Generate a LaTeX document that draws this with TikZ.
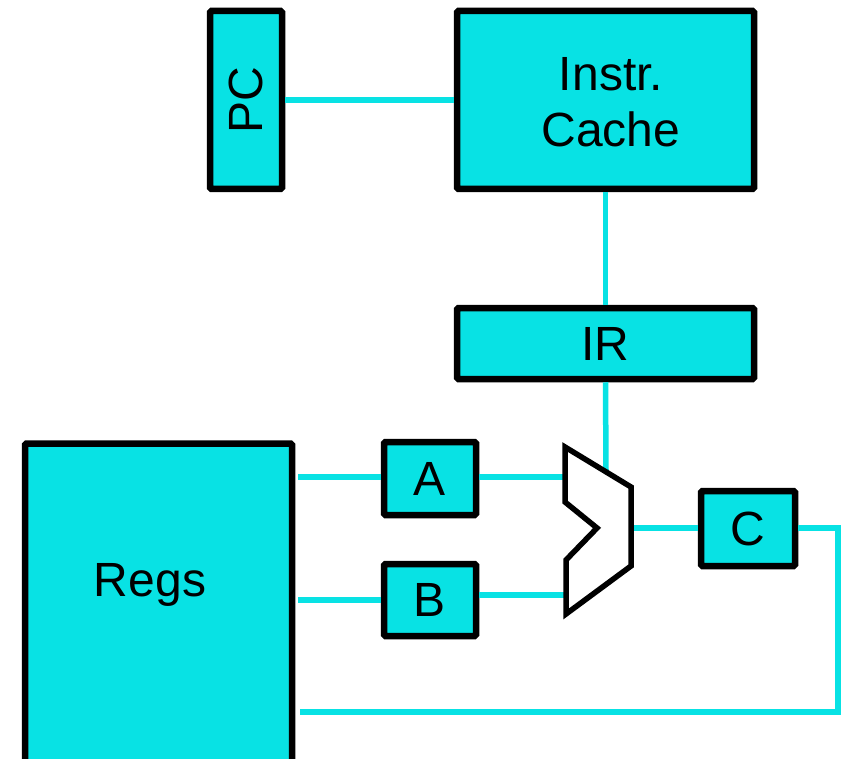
\documentclass[tikz,border=0pt]{standalone}
\usepackage{fontspec}
\setmainfont{Liberation Sans}
\definecolor{cy}{RGB}{8,226,228}
\begin{document}
\begin{tikzpicture}[x=1pt,y=-1pt,
  blk/.style={draw=black,fill=cy,line width=6.5pt,rounded corners=1.5pt,inner sep=0pt,font=\fontsize{48}{56}\selectfont,align=center},
  wire/.style={draw=cy,line width=5.5pt}]
\useasboundingbox (0,0) rectangle (845,759);
\clip (0,0) rectangle (845,759);
% nodes
\node[blk,minimum width=72pt,minimum height=178pt] (PC) at (246,100) {\rotatebox{90}{PC}};
\node[blk,minimum width=297pt,minimum height=178pt] (IC) at (605.5,100) {};
\node[font=\fontsize{48}{56}\selectfont,align=center] (ICt) at (611,102) {Instr.\\Cache};
\node[blk,minimum width=297pt,minimum height=71pt] (IR) at (605.5,343.5) {IR};
\node[blk,minimum width=267pt,minimum height=335pt] (RG) at (158.5,611) {};
\node[font=\fontsize{48}{56}\selectfont] (RGt) at (150,585) {Regs};
\node[blk,minimum width=92pt,minimum height=73pt] (A) at (430,478.5) {A};
\node[blk,minimum width=92pt,minimum height=72pt] (B) at (430,600) {B};
\node[blk,minimum width=94pt,minimum height=75pt] (C) at (748,528.5) {C};
% ALU ports
\coordinate (aluA) at (565,477);
\coordinate (aluB) at (566,595);
\coordinate (aluT) at (606,471);
\coordinate (aluO) at (631,528);
\coordinate (ret) at (838,712);
% wires
\draw[wire] (PC.east) -- (IC.west);
\draw[wire] (IC.south) -- (IR.north);
\draw[wire] (IR.south) -- (aluT);
\draw[wire] ([xshift=3pt]RG.east |- aluA) -- (A.west |- aluA);
\draw[wire] ([xshift=3pt]RG.east |- B.west) -- (B.west);
\draw[wire] (A.east |- aluA) -- (aluA);
\draw[wire] (B.east |- aluB) -- (aluB);
\draw[wire] (aluO) -- (C.west |- aluO);
\draw[wire] (C.east |- aluO) -| (ret) -- ([xshift=5pt]RG.east |- ret);
% ALU
\draw[line width=5.5pt,fill=white,line join=miter] (565,447) -- (631,487) -- (631,566) -- (566,614) -- (566,560) -- (597,528) -- (565,502) -- cycle;
\end{tikzpicture}
\end{document}
